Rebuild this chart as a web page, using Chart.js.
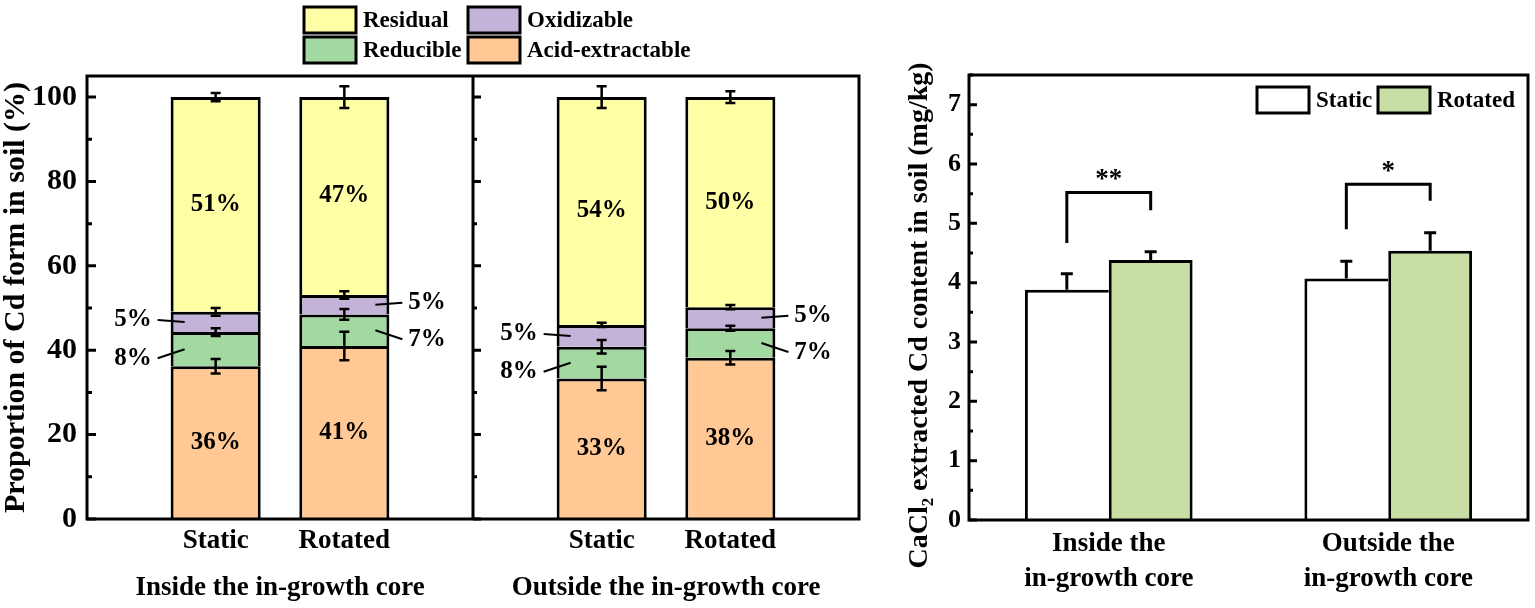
<!DOCTYPE html>
<html>
<head>
<meta charset="utf-8">
<script src="https://cdn.jsdelivr.net/npm/chart.js@4.4.1/dist/chart.umd.min.js"></script>
<style>
  html, body { margin: 0; padding: 0; background: #fff; }
  #wrap { position: relative; width: 1535px; height: 608px; }
  #fractionChart { position: absolute; left: 0; top: 0; }
  #cacl2Chart { position: absolute; left: 880px; top: 0; }
</style>
</head>
<body>
<div id="wrap">
  <canvas id="fractionChart" width="880" height="608"></canvas>
  <canvas id="cacl2Chart" width="655" height="608"></canvas>
</div>
<script>
// Cd fractions (%), order: inside static, inside rotated, outside static, outside rotated
const locations = ['Inside the in-growth core', 'Outside the in-growth core'];
const treatments = ['Static', 'Rotated'];
const acidExtractable = [36.2, 41.0, 33.3, 38.2];
const reducible = [8.1, 7.5, 7.5, 7.0];
const oxidizable = [4.8, 4.6, 5.2, 5.0];
const residual = [50.9, 46.9, 54.0, 49.8];
const acidErr = [1.7, 3.4, 2.8, 1.6];
const reducibleErr = [0.9, 1.3, 1.6, 0.6];
const oxidizableErr = [0.9, 0.9, 0.5, 0.5];
const residualErr = [1.0, 2.6, 2.6, 1.4];
const acidLabels = ['36%', '41%', '33%', '38%'];
const reducibleLabels = ['8%', '7%', '8%', '7%'];
const oxidizableLabels = ['5%', '5%', '5%', '5%'];
const residualLabels = ['51%', '47%', '54%', '50%'];
const fractionTicks = [0, 20, 40, 60, 80, 100];

// CaCl2 extracted Cd (mg/kg), order: inside, outside
const cdCategories = [['Inside the', 'in-growth core'], ['Outside the', 'in-growth core']];
const staticCd = [3.88, 4.07];
const rotatedCd = [4.38, 4.54];
const staticCdErr = [0.27, 0.29];
const rotatedCdErr = [0.14, 0.30];
const sigMarks = ['**', '*'];
const sigTop = [5.52, 5.66];
const sigLeftEnd = [4.67, 4.90];
const sigRightEnd = [5.22, 5.38];
const cdTicks = [0, 1, 2, 3, 4, 5, 6, 7];
const cdTitle = 'CaCl₂ extracted Cd content in soil (mg/kg)';

const SERIF = "'Liberation Serif', 'Times New Roman', serif";
Chart.defaults.font.family = SERIF;
Chart.defaults.font.weight = 'bold';
Chart.defaults.color = '#000';

// left chart uses 7 slots: empty | Static Rotated | divider | Static Rotated | empty
const slotLabels = ['', treatments[0], treatments[1], '', treatments[0], treatments[1], ''];
const slotOf = [1, 2, 4, 5];
function toSlots(values) {
    const out = slotLabels.map(() => null);
    values.forEach((v, i) => { out[slotOf[i]] = v; });
    return out;
}

function drawInwardTicks(ctx, scale, x, ticks, majorLen, minorLen) {
    const step = ticks[1] - ticks[0];
    ctx.beginPath();
    ticks.forEach(v => {
        const py = scale.getPixelForValue(v);
        ctx.moveTo(x, py); ctx.lineTo(x + majorLen, py);
        if (v + step / 2 <= scale.max) {
            const pm = scale.getPixelForValue(v + step / 2);
            ctx.moveTo(x, pm); ctx.lineTo(x + minorLen, pm);
        }
    });
    ctx.stroke();
}

function drawLegend(ctx, items, fontSize) {
    ctx.save();
    ctx.font = `bold ${fontSize}px ${SERIF}`;
    ctx.textAlign = 'left';
    ctx.textBaseline = 'middle';
    ctx.lineWidth = 3;
    ctx.strokeStyle = '#000';
    items.forEach(it => {
        ctx.fillStyle = it.color;
        ctx.fillRect(it.x, it.y, 52, 26);
        ctx.strokeRect(it.x, it.y, 52, 26);
        ctx.fillStyle = '#000';
        ctx.fillText(it.label, it.x + 59, it.y + 14);
    });
    ctx.restore();
}

const fractionSets = [
    { label: 'Acid-extractable', data: toSlots(acidExtractable), err: acidErr, tags: acidLabels, tagMode: 'inside', backgroundColor: '#ffc895' },
    { label: 'Reducible', data: toSlots(reducible), err: reducibleErr, tags: reducibleLabels, tagMode: 'callout', tagDy: 9, backgroundColor: '#a2d9a1' },
    { label: 'Oxidizable', data: toSlots(oxidizable), err: oxidizableErr, tags: oxidizableLabels, tagMode: 'callout', tagDy: -2, backgroundColor: '#c3b3d9' },
    { label: 'Residual', data: toSlots(residual), err: residualErr, tags: residualLabels, tagMode: 'inside', backgroundColor: '#ffffa6' }
].map(ds => Object.assign(ds, { borderColor: '#000', borderWidth: 3, categoryPercentage: 0.7, barPercentage: 1.0 }));

// error bars, in-bar percentages and callouts
const fractionMarks = {
    id: 'fractionMarks',
    afterDatasetsDraw(chart) {
        const { ctx, scales: { y } } = chart;
        const cum = slotLabels.map(() => 0);
        ctx.save();
        ctx.strokeStyle = '#000';
        ctx.fillStyle = '#000';
        ctx.font = `bold 25px ${SERIF}`;
        chart.data.datasets.forEach((ds, di) => {
            const meta = chart.getDatasetMeta(di);
            ds.data.forEach((v, slot) => {
                if (v === null) return;
                const bar = meta.data[slot];
                const k = slotOf.indexOf(slot);
                cum[slot] += v;
                const mid = (bar.y + bar.base) / 2;
                if (ds.tagMode === 'inside') {
                    ctx.textAlign = 'center';
                    ctx.textBaseline = 'middle';
                    ctx.fillText(ds.tags[k], bar.x, mid);
                } else {
                    const onLeft = k % 2 === 0;
                    const dir = onLeft ? -1 : 1;
                    const edge = bar.x + dir * bar.width / 2;
                    const ty = mid + ds.tagDy;
                    ctx.lineWidth = 2;
                    ctx.beginPath();
                    ctx.moveTo(edge - dir * 14, mid);
                    ctx.lineTo(edge + dir * 13, ty);
                    ctx.stroke();
                    ctx.textAlign = onLeft ? 'right' : 'left';
                    ctx.textBaseline = 'middle';
                    ctx.fillText(ds.tags[k], edge + dir * 19, ty);
                }
                const e = ds.err[k];
                const y1 = y.getPixelForValue(cum[slot] + e);
                const y2 = y.getPixelForValue(cum[slot] - e);
                ctx.lineWidth = 2.5;
                ctx.beginPath();
                ctx.moveTo(bar.x, y1); ctx.lineTo(bar.x, y2);
                ctx.moveTo(bar.x - 5, y1); ctx.lineTo(bar.x + 5, y1);
                ctx.moveTo(bar.x - 5, y2); ctx.lineTo(bar.x + 5, y2);
                ctx.stroke();
            });
        });
        ctx.restore();
    },
    afterDraw(chart) {
        const { ctx, chartArea: a, scales: { x, y } } = chart;
        ctx.save();
        ctx.strokeStyle = '#000';
        ctx.lineWidth = 3;
        ctx.strokeRect(a.left, a.top, a.right - a.left, a.bottom - a.top);
        const xd = x.getPixelForValue(3);
        ctx.beginPath();
        ctx.moveTo(xd, a.top); ctx.lineTo(xd, a.bottom);
        ctx.stroke();
        drawInwardTicks(ctx, y, a.left, fractionTicks, 9, 5);
        drawInwardTicks(ctx, y, xd, fractionTicks, 8, 4);
        ctx.restore();
        const color = name => chart.data.datasets.find(d => d.label === name).backgroundColor;
        drawLegend(ctx, [
            { label: 'Residual', color: color('Residual'), x: 304, y: 7 },
            { label: 'Oxidizable', color: color('Oxidizable'), x: 468, y: 7 },
            { label: 'Reducible', color: color('Reducible'), x: 304, y: 37 },
            { label: 'Acid-extractable', color: color('Acid-extractable'), x: 468, y: 37 }
        ], 23);
    }
};

new Chart(document.getElementById('fractionChart'), {
    type: 'bar',
    data: { labels: slotLabels, datasets: fractionSets },
    options: {
        responsive: false,
        animation: false,
        layout: { padding: { top: 76, right: 21, left: 0, bottom: 0 } },
        plugins: { legend: { display: false }, tooltip: { enabled: false } },
        scales: {
            x: {
                stacked: true,
                offset: false,
                weight: 1,
                afterFit: s => { s.height = 45; },
                grid: { display: false, drawTicks: false },
                border: { display: false },
                ticks: { padding: 6, autoSkip: false, maxRotation: 0, font: { size: 27, weight: 'bold' } }
            },
            x2: {
                type: 'category',
                labels: locations,
                offset: true,
                position: 'bottom',
                weight: 2,
                afterFit: s => { s.height = 44; },
                grid: { display: false, drawTicks: false },
                border: { display: false },
                ticks: { padding: 8, autoSkip: false, maxRotation: 0, font: { size: 27, weight: 'bold' } }
            },
            y: {
                stacked: true,
                min: 0,
                max: 105,
                afterBuildTicks: s => { s.ticks = fractionTicks.map(v => ({ value: v })); },
                afterFit: s => { s.width = 87; },
                grid: { display: false, drawTicks: false },
                border: { display: false },
                ticks: { padding: 10, autoSkip: false, font: { size: 30, weight: 'bold' } },
                title: {
                    display: true,
                    text: 'Proportion of Cd form in soil (%)',
                    font: { size: 30, weight: 'bold', lineHeight: 1.05 },
                    padding: { top: 0, bottom: 0 }
                }
            }
        }
    },
    plugins: [fractionMarks]
});

// right chart: one-sided error bars, significance brackets, legend, frame, axis title
const cdMarks = {
    id: 'cdMarks',
    afterDatasetsDraw(chart) {
        const { ctx, scales: { y } } = chart;
        ctx.save();
        ctx.strokeStyle = '#000';
        ctx.lineWidth = 3;
        chart.data.datasets.forEach((ds, di) => {
            const meta = chart.getDatasetMeta(di);
            ds.data.forEach((v, i) => {
                const bar = meta.data[i];
                const yt = y.getPixelForValue(v + ds.err[i]);
                ctx.beginPath();
                ctx.moveTo(bar.x, bar.y); ctx.lineTo(bar.x, yt);
                ctx.moveTo(bar.x - 6, yt); ctx.lineTo(bar.x + 6, yt);
                ctx.stroke();
            });
        });
        const m0 = chart.getDatasetMeta(0), m1 = chart.getDatasetMeta(1);
        ctx.fillStyle = '#000';
        ctx.font = `bold 27px ${SERIF}`;
        ctx.textAlign = 'center';
        ctx.textBaseline = 'alphabetic';
        sigMarks.forEach((mark, i) => {
            const xl = m0.data[i].x, xr = m1.data[i].x;
            const top = y.getPixelForValue(sigTop[i]);
            ctx.beginPath();
            ctx.moveTo(xl, y.getPixelForValue(sigLeftEnd[i]));
            ctx.lineTo(xl, top);
            ctx.lineTo(xr, top);
            ctx.lineTo(xr, y.getPixelForValue(sigRightEnd[i]));
            ctx.stroke();
            ctx.fillText(mark, (xl + xr) / 2, top - 5);
        });
        ctx.restore();
    },
    afterDraw(chart) {
        const { ctx, chartArea: a, scales: { y } } = chart;
        ctx.save();
        ctx.strokeStyle = '#000';
        ctx.lineWidth = 3;
        ctx.strokeRect(a.left, a.top, a.right - a.left, a.bottom - a.top);
        drawInwardTicks(ctx, y, a.left, cdTicks, 8, 4);
        // y title sits a little below the plot centre in the original
        ctx.translate(40, (a.top + a.bottom) / 2 + 18);
        ctx.rotate(-Math.PI / 2);
        ctx.fillStyle = '#000';
        ctx.font = `bold 28px ${SERIF}`;
        ctx.textAlign = 'center';
        ctx.textBaseline = 'middle';
        ctx.fillText(cdTitle, 0, 0);
        ctx.restore();
        const ds = chart.data.datasets;
        drawLegend(ctx, [
            { label: ds[0].label, color: ds[0].backgroundColor, x: 377, y: 87 },
            { label: ds[1].label, color: ds[1].backgroundColor, x: 498, y: 87 }
        ], 23);
    }
};

new Chart(document.getElementById('cacl2Chart'), {
    type: 'bar',
    data: {
        labels: cdCategories,
        datasets: [
            { label: treatments[0], data: staticCd, err: staticCdErr, backgroundColor: '#ffffff', borderColor: '#000',
              borderWidth: { top: 3, left: 3, right: 0, bottom: 0 } },
            { label: treatments[1], data: rotatedCd, err: rotatedCdErr, backgroundColor: '#c9dea5', borderColor: '#000',
              borderWidth: 3 }
        ]
    },
    options: {
        responsive: false,
        animation: false,
        categoryPercentage: 0.6,
        barPercentage: 1.0,
        layout: { padding: { top: 75, right: 7, left: 0, bottom: 0 } },
        plugins: { legend: { display: false }, tooltip: { enabled: false } },
        scales: {
            x: {
                afterFit: s => { s.height = 88; },
                grid: { display: false, drawTicks: false },
                border: { display: false },
                ticks: { padding: 6, autoSkip: false, maxRotation: 0, font: { size: 27, weight: 'bold', lineHeight: 1.3 } }
            },
            y: {
                min: 0,
                max: 7.5,
                afterBuildTicks: s => { s.ticks = cdTicks.map(v => ({ value: v })); },
                afterFit: s => { s.width = 89; },
                grid: { display: false, drawTicks: false },
                border: { display: false },
                ticks: { padding: 8, autoSkip: false, font: { size: 26, weight: 'bold' } }
            }
        }
    },
    plugins: [cdMarks]
});
</script>
</body>
</html>
